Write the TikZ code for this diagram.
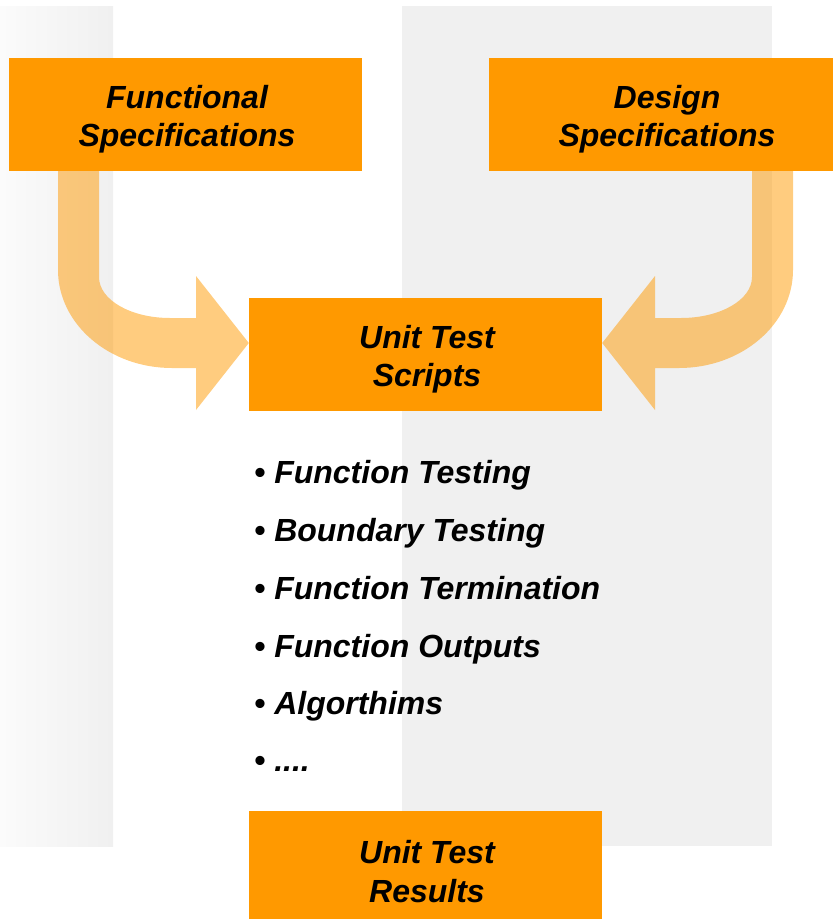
\documentclass[tikz,border=0pt]{standalone}
\usepackage{fontspec}
\setmainfont{Liberation Sans}
\usetikzlibrary{backgrounds}
\definecolor{boxorange}{HTML}{FF9900}
\definecolor{bandgray}{HTML}{F0F0F0}
\definecolor{bandlight}{HTML}{FBFBFB}
\begin{document}
\begin{tikzpicture}[x=1pt,y=-1pt,
  box/.style={fill=boxorange, draw=none, minimum width=353pt, minimum height=113pt, inner sep=0pt},
  boxtext/.style={font=\fontsize{32}{38.4}\selectfont\bfseries\itshape, align=center, inner sep=0pt},
  item/.style={font=\fontsize{32}{38.4}\selectfont\bfseries\itshape, anchor=base west, inner sep=0pt},
  flow/.style={fill=boxorange, fill opacity=0.5, draw=none}]
\path[use as bounding box] (0,0) rectangle (833,919);
\clip (0,0) rectangle (833,919);

% boxes
\node[box] (fs) at (185.5,114.5) {};
\node[box, minimum width=356pt] (ds) at (667,114.5) {};
\node[box] (uts) at (425.5,354.5) {};
\node[box] (utr) at (425.5,867.5) {};

% box captions
\node[boxtext] (fs-t) at (187,119.5) {Functional\\Specifications};
\node[boxtext] (ds-t) at (667,119.5) {Design\\Specifications};
\node[boxtext] (uts-t) at (427,359.5) {Unit Test\\Scripts};
\node[boxtext] (utr-t) at (427,871.5) {Unit Test\\Results};

% list of test kinds
\node[item] (i1) at (254,483) {• Function Testing};
\node[item] (i2) at (254,541) {• Boundary Testing};
\node[item] (i3) at (254,599) {• Function Termination};
\node[item] (i4) at (254,657) {• Function Outputs};
\node[item] (i5) at (254,714) {• Algorthims};
\node[item] (i6) at (254,771) {• ....};

\begin{pgfonlayer}{background}
  % background bands
  \shade[left color=bandlight, right color=bandgray] (0,6) rectangle (113,846);
  \fill[bandgray] (402,6) rectangle (772,846);
  % bent arrows into the scripts box
  \fill[flow] (58,171) -- (58,270) .. controls (58,324) and (109,368) .. (172,368)
    -- (196,368) -- (196,410) -- (uts.west |- 0,343) -- (196,276) -- (196,318) -- (170,318)
    .. controls (131,318) and (99,300) .. (99,277) -- (99,171) -- cycle;
  \fill[flow] (793,171) -- (793,270) .. controls (793,324) and (742,368) .. (679,368)
    -- (655,368) -- (655,410) -- (uts.east |- 0,343) -- (655,276) -- (655,318) -- (681,318)
    .. controls (720,318) and (752,300) .. (752,277) -- (752,171) -- cycle;
\end{pgfonlayer}
\end{tikzpicture}
\end{document}
